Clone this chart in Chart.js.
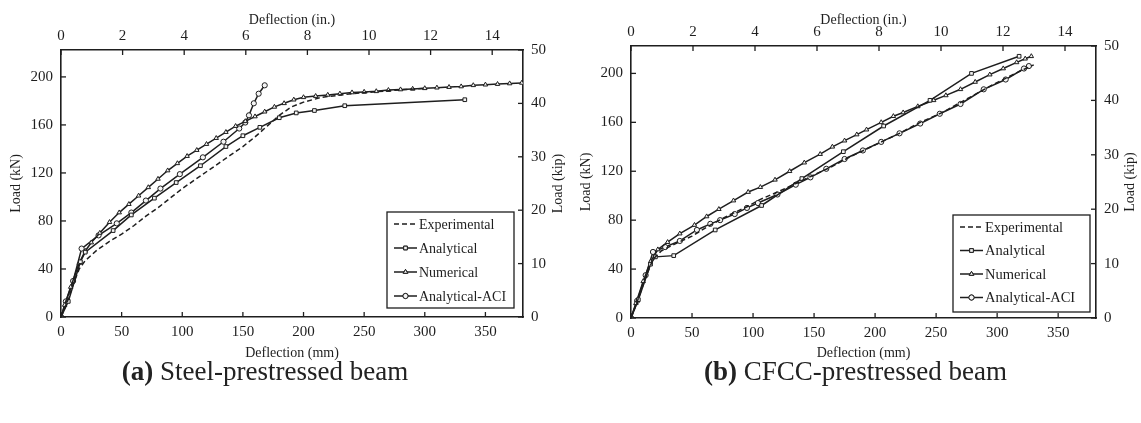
<!DOCTYPE html>
<html>
<head>
<meta charset="utf-8">
<script src="https://cdn.jsdelivr.net/npm/chart.js@4.4.1/dist/chart.umd.min.js"></script>
<style>
  body { margin: 0; background: #fff; width: 1141px; height: 423px; position: relative; overflow: hidden; }
  .panel { position: absolute; top: 0; height: 370px; }
  .cap { position: absolute; top: 356px; line-height: 30px; font-family: 'Liberation Serif', serif; font-size: 27px; color: #222; text-align: center; white-space: nowrap; }
</style>
</head>
<body>
<div class="panel" style="left:0;width:570px"><canvas id="steel-chart"></canvas></div>
<div class="panel" style="left:570px;width:571px"><canvas id="cfcc-chart"></canvas></div>
<div class="cap" style="left:0;width:530px"><b>(a)</b> Steel-prestressed beam</div>
<div class="cap" style="left:570px;width:571px"><b>(b)</b> CFCC-prestressed beam</div>

<script>
// series names (legend order)
const seriesNames = ['Experimental', 'Analytical', 'Numerical', 'Analytical-ACI'];

// (a) steel-prestressed beam: [deflection mm, load kN]
const steelExperimental = [[0,0],[5,12],[10,27],[15,40],[20,47],[30,56],[40,63],[50,69],[60,76],[70,84],[80,91],[90,99],[100,107],[110,114],[120,121],[130,128],[140,135],[150,142],[160,150],[170,159],[180,168],[190,175],[200,179],[215,183],[240,186],[270,188.5],[300,190.5]];
const steelAnalytical = [[0,0],[6,13],[16,46],[20,54],[43,72],[58,85],[77,99],[95,112],[115,126],[136,142],[150,151],[164,158],[180,166],[194,170],[209,172],[234,176],[333,181]];
const steelNumerical = [[0,0],[3,10],[8,25],[15,45],[20,55],[25,62],[32,70],[40,79],[48,87],[56,94],[64,101],[72,108],[80,115],[88,122],[96,128],[104,134],[112,139],[120,144],[128,149],[136,154],[144,159],[152,163],[160,167],[168,171],[176,175],[184,178],[192,181],[200,183],[210,184],[220,185],[230,186],[240,187],[250,187.5],[260,188],[270,189],[280,189.5],[290,190],[300,190.5],[310,191],[320,191.5],[330,192],[340,193],[350,193.5],[360,194],[370,194.5],[380,195]];
const steelACI = [[0,0],[4,13],[10,30],[17,57],[31,68],[46,78],[58,87],[70,97],[82,107],[98,119],[117,133],[134,146],[147,157],[152,162],[155,168],[159,178],[163,186],[168,193]];

// (b) CFCC-prestressed beam: [deflection mm, load kN]
const cfccExperimental = [[0,0],[5,13],[12,33],[18,48],[25,55],[35,60],[50,67],[65,76],[80,84],[95,91],[106,97],[120,103],[135,110],[150,117],[165,124],[180,132],[201,142],[220,151],[237,160],[255,168],[275,179],[295,190],[315,200],[330,207]];
const cfccAnalytical = [[0,0],[6,15],[16,44],[20,50],[35,51],[69,72],[107,92],[140,114],[174,136],[207,157],[245,178],[279,200],[318,214]];
const cfccNumerical = [[0,0],[4,12],[10,30],[16,46],[22,56],[30,62],[40,69],[52,76],[62,83],[72,89],[84,96],[96,103],[106,107],[118,113],[130,120],[142,127],[155,134],[165,140],[175,145],[185,150],[193,154],[205,160],[215,165],[223,168],[235,173],[248,178],[258,182],[270,187],[282,193],[294,199],[305,204],[316,209],[323,212],[328,214]];
const cfccACI = [[0,0],[5,14],[12,35],[18,54],[28,58],[40,63],[54,72],[65,77],[73,80],[85,85],[95,90],[104,94],[120,101],[135,109],[147,115],[160,122],[175,130],[190,137],[205,144],[220,151],[237,159],[253,167],[270,175],[289,187],[307,195],[322,204],[326,206]];

const ink = '#1e1e1e';
const serif = "'Liberation Serif', 'Times New Roman', serif";
const KN_PER_KIP = 4.44822;
const MM_PER_IN = 25.4;

function makeSeries(points, idx) {
  const styles = [false, 'rect', 'triangle', 'circle'];
  return {
    label: seriesNames[idx],
    data: points.map(p => ({ x: p[0], y: p[1] })),
    borderColor: ink,
    backgroundColor: '#fff',
    borderWidth: 1.5,
    borderDash: idx === 0 ? [5, 3] : [],
    pointStyle: styles[idx],
    pointRadius: idx === 0 ? 0 : 2.6,
    pointBorderWidth: 1,
    pointBorderColor: ink,
    pointBackgroundColor: '#f4f4f4',
    tension: 0
  };
}

// inward tick marks, right-hand title and the boxed legend
const framePlugin = {
  id: 'framePlugin',
  afterDraw(chart, args, opts) {
    const ctx = chart.ctx;
    const a = chart.chartArea;
    ctx.save();
    ctx.strokeStyle = ink;
    ctx.lineWidth = 1.3;
    Object.values(chart.scales).forEach(s => {
      s.ticks.forEach((t, i) => {
        const p = s.getPixelForTick(i);
        ctx.beginPath();
        if (s.position === 'bottom') { ctx.moveTo(p, s.top); ctx.lineTo(p, s.top - 5); }
        else if (s.position === 'top') { ctx.moveTo(p, s.bottom); ctx.lineTo(p, s.bottom + 5); }
        else if (s.position === 'left') { ctx.moveTo(s.right, p); ctx.lineTo(s.right + 5, p); }
        else { ctx.moveTo(s.left, p); ctx.lineTo(s.left - 5, p); }
        ctx.stroke();
      });
    });

    // right axis title, reading bottom to top
    ctx.fillStyle = ink;
    ctx.font = '14px ' + serif;
    ctx.textAlign = 'center';
    ctx.textBaseline = 'middle';
    ctx.save();
    ctx.translate(chart.width - opts.kipOffset, (a.top + a.bottom) / 2);
    ctx.rotate(-Math.PI / 2);
    ctx.fillText('Load (kip)', 0, 0);
    ctx.restore();

    // legend box
    const bw = opts.boxW, bh = opts.boxH;
    const bx = a.right - opts.boxGap - bw, by = a.bottom - opts.boxGap - bh;
    ctx.lineWidth = 1.3;
    ctx.strokeRect(bx, by, bw, bh);
    ctx.font = opts.legendFont + 'px ' + serif;
    ctx.textAlign = 'left';
    chart.data.datasets.forEach((ds, i) => {
      const y = by + 12 + i * opts.rowGap;
      const x0 = bx + 7, x1 = bx + 30;
      ctx.beginPath();
      ctx.setLineDash(ds.borderDash);
      ctx.lineWidth = ds.borderWidth;
      ctx.moveTo(x0, y); ctx.lineTo(x1, y);
      ctx.stroke();
      ctx.setLineDash([]);
      if (ds.pointRadius > 0) {
        ctx.lineWidth = 1;
        ctx.fillStyle = '#f4f4f4';
        Chart.helpers.drawPoint(ctx, { pointStyle: ds.pointStyle, radius: 2.6, rotation: 0, borderWidth: 1 }, (x0 + x1) / 2, y);
        ctx.fill();
        ctx.stroke();
      }
      ctx.fillStyle = ink;
      ctx.fillText(ds.label, x1 + 2, y + 1);
    });
    ctx.restore();
  }
};

function fixed(size) {
  return function (s) {
    if (s.isHorizontal()) s.height = size; else s.width = size;
  };
}

function buildChart(id, sets, box) {
  const tickFont = { family: serif, size: 15 };
  const titleFont = { family: serif, size: 14 };
  const border = { display: true, color: ink, width: 1.6 };
  const grid = { drawOnChartArea: false, drawTicks: false };
  return new Chart(document.getElementById(id).getContext('2d'), {
    type: 'line',
    data: { datasets: sets.map(makeSeries) },
    options: {
      responsive: true,
      maintainAspectRatio: false,
      animation: false,
      layout: { padding: 0 },
      plugins: { legend: { display: false }, tooltip: { enabled: false }, framePlugin: box },
      scales: {
        x: {
          type: 'linear', position: 'bottom', min: 0, max: 15 * MM_PER_IN,
          ticks: { stepSize: 50, includeBounds: false, color: ink, font: tickFont, padding: 6, maxRotation: 0 },
          title: { display: true, text: 'Deflection (mm)', color: ink, font: titleFont, padding: { top: 0, bottom: 8 } },
          grid, border, afterFit: fixed(box.bottomH)
        },
        x2: {
          type: 'linear', position: 'top', min: 0, max: 15,
          ticks: { stepSize: 2, includeBounds: false, color: ink, font: tickFont, padding: 5, maxRotation: 0 },
          title: { display: true, text: 'Deflection (in.)', color: ink, font: titleFont, padding: { top: 12, bottom: 0 } },
          grid, border, afterFit: fixed(box.topH)
        },
        y: {
          type: 'linear', position: 'left', min: 0, max: 50 * KN_PER_KIP,
          ticks: { stepSize: 40, includeBounds: false, color: ink, font: tickFont, padding: 8 },
          title: { display: true, text: 'Load (kN)', color: ink, font: titleFont, padding: { top: 8, bottom: 0 } },
          grid, border, afterFit: fixed(61)
        },
        y2: {
          type: 'linear', position: 'right', min: 0, max: 50,
          ticks: { stepSize: 10, includeBounds: false, color: ink, font: tickFont, padding: 8 },
          grid, border, afterFit: fixed(box.rightW)
        }
      }
    },
    plugins: [framePlugin]
  });
}

buildChart('steel-chart', [steelExperimental, steelAnalytical, steelNumerical, steelACI],
  { topH: 50, bottomH: 53, rightW: 47, kipOffset: 12, boxW: 127, boxH: 96, boxGap: 9, rowGap: 24, legendFont: 14 });
buildChart('cfcc-chart', [cfccExperimental, cfccAnalytical, cfccNumerical, cfccACI],
  { topH: 46, bottomH: 52, rightW: 45, kipOffset: 11, boxW: 137, boxH: 97, boxGap: 6, rowGap: 23.5, legendFont: 14.5 });
</script>
</body>
</html>
